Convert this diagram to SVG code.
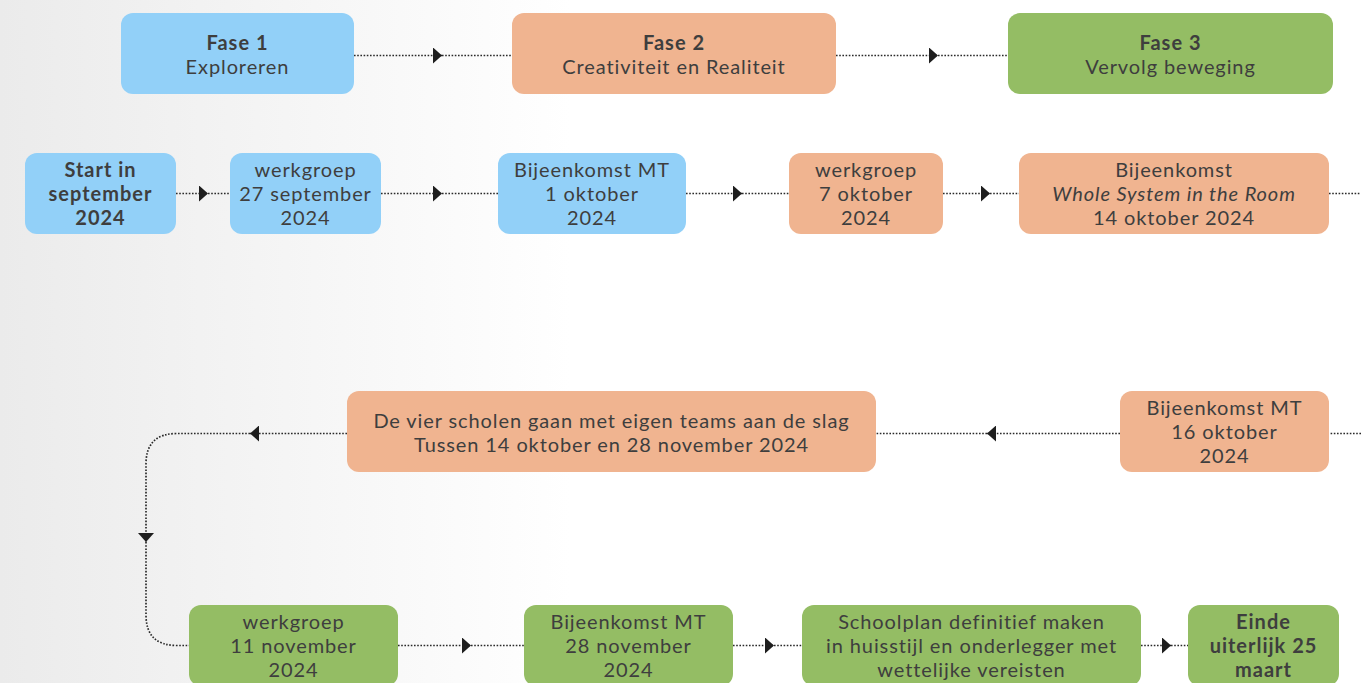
<svg xmlns="http://www.w3.org/2000/svg" width="1361" height="683" viewBox="0 0 1361 683">
  <defs>
    <linearGradient id="bg" x1="0" y1="0" x2="1" y2="0">
      <stop offset="0" stop-color="#ebebeb"/>
      <stop offset="0.42" stop-color="#ffffff"/>
      <stop offset="1" stop-color="#ffffff"/>
    </linearGradient>
    <marker id="arr" markerWidth="10" markerHeight="16" refX="9" refY="8" orient="auto" markerUnits="userSpaceOnUse">
      <path d="M0,0 L9,8 L0,16 Z" fill="#1e1e1e"/>
    </marker>
    <style>
      .box { stroke: none; }
      .blue { fill: #92d0f8; }
      .orange { fill: #f0b490; }
      .green { fill: #94bd64; }
      .t { font-family: Lato, "Open Sans", "Liberation Sans", sans-serif; font-size: 20px; letter-spacing: 0.9px; fill: #3e3e3e; text-anchor: middle; }
      .b { font-weight: bold; letter-spacing: 1px; }
      .i { font-style: italic; }
      .c { fill: none; stroke: #2a2a2a; stroke-width: 1.7; stroke-dasharray: 1.6 1.6; }
    </style>
  </defs>
  <rect x="0" y="0" width="1361" height="683" fill="url(#bg)"/>

  <g id="connectors">
    <path class="c" d="M354,55.5 H442" marker-end="url(#arr)"/>
    <path class="c" d="M442,55.5 H512"/>
    <path class="c" d="M836,55.5 H938" marker-end="url(#arr)"/>
    <path class="c" d="M938,55.5 H1008"/>

    <path class="c" d="M176,193.5 H208" marker-end="url(#arr)"/>
    <path class="c" d="M208,193.5 H230"/>
    <path class="c" d="M381,193.5 H442" marker-end="url(#arr)"/>
    <path class="c" d="M442,193.5 H498"/>
    <path class="c" d="M686,193.5 H742" marker-end="url(#arr)"/>
    <path class="c" d="M742,193.5 H789"/>
    <path class="c" d="M943,193.5 H990" marker-end="url(#arr)"/>
    <path class="c" d="M990,193.5 H1019"/>
    <path class="c" d="M1329,193.5 H1361"/>

    <path class="c" d="M1361,433.5 H1329"/>
    <path class="c" d="M1120,433.5 H987" marker-end="url(#arr)"/>
    <path class="c" d="M987,433.5 H876"/>
    <path class="c" d="M347,433.5 H250" marker-end="url(#arr)"/>
    <path class="c" d="M250,433.5 H177 Q146,433.5 146,464 V542" marker-end="url(#arr)"/>
    <path class="c" d="M146,542 V615 Q146,645.5 177,645.5 H189"/>

    <path class="c" d="M398,645.5 H471" marker-end="url(#arr)"/>
    <path class="c" d="M471,645.5 H524"/>
    <path class="c" d="M733,645.5 H774" marker-end="url(#arr)"/>
    <path class="c" d="M774,645.5 H802"/>
    <path class="c" d="M1141,645.5 H1171" marker-end="url(#arr)"/>
    <path class="c" d="M1171,645.5 H1188"/>
  </g>

  <g id="fase1">
    <rect class="box blue" x="121" y="13" width="233" height="81" rx="12"/>
    <text class="t b" x="237.5" y="50">Fase 1</text>
    <text class="t" x="237.5" y="74">Exploreren</text>
  </g>
  <g id="fase2">
    <rect class="box orange" x="512" y="13" width="324" height="81" rx="12"/>
    <text class="t b" x="674" y="50">Fase 2</text>
    <text class="t" x="674" y="74">Creativiteit en Realiteit</text>
  </g>
  <g id="fase3">
    <rect class="box green" x="1008" y="13" width="325" height="81" rx="12"/>
    <text class="t b" x="1170.5" y="50">Fase 3</text>
    <text class="t" x="1170.5" y="74">Vervolg beweging</text>
  </g>

  <g id="start">
    <rect class="box blue" x="25" y="153" width="151" height="81" rx="12"/>
    <text class="t b" x="100.5" y="177">Start in</text>
    <text class="t b" x="100.5" y="201">september</text>
    <text class="t b" x="100.5" y="225">2024</text>
  </g>
  <g id="werkgroep27sep">
    <rect class="box blue" x="230" y="153" width="151" height="81" rx="12"/>
    <text class="t" x="305.5" y="177">werkgroep</text>
    <text class="t" x="305.5" y="201">27 september</text>
    <text class="t" x="305.5" y="225">2024</text>
  </g>
  <g id="mt1okt">
    <rect class="box blue" x="498" y="153" width="188" height="81" rx="12"/>
    <text class="t" x="592" y="177">Bijeenkomst MT</text>
    <text class="t" x="592" y="201">1 oktober</text>
    <text class="t" x="592" y="225">2024</text>
  </g>
  <g id="werkgroep7okt">
    <rect class="box orange" x="789" y="153" width="154" height="81" rx="12"/>
    <text class="t" x="866" y="177">werkgroep</text>
    <text class="t" x="866" y="201">7 oktober</text>
    <text class="t" x="866" y="225">2024</text>
  </g>
  <g id="wholesystem">
    <rect class="box orange" x="1019" y="153" width="310" height="81" rx="12"/>
    <text class="t" x="1174" y="177">Bijeenkomst</text>
    <text class="t i" x="1174" y="201">Whole System in the Room</text>
    <text class="t" x="1174" y="225">14 oktober 2024</text>
  </g>

  <g id="mt16okt">
    <rect class="box orange" x="1120" y="391" width="209" height="81" rx="12"/>
    <text class="t" x="1224.5" y="415">Bijeenkomst MT</text>
    <text class="t" x="1224.5" y="439">16 oktober</text>
    <text class="t" x="1224.5" y="463">2024</text>
  </g>
  <g id="vierscholen">
    <rect class="box orange" x="347" y="391" width="529" height="81" rx="12"/>
    <text class="t" x="611.5" y="428">De vier scholen gaan met eigen teams aan de slag</text>
    <text class="t" x="611.5" y="452">Tussen 14 oktober en 28 november 2024</text>
  </g>

  <g id="werkgroep11nov">
    <rect class="box green" x="189" y="605" width="209" height="81" rx="12"/>
    <text class="t" x="293.5" y="629">werkgroep</text>
    <text class="t" x="293.5" y="653">11 november</text>
    <text class="t" x="293.5" y="677">2024</text>
  </g>
  <g id="mt28nov">
    <rect class="box green" x="524" y="605" width="209" height="81" rx="12"/>
    <text class="t" x="628.5" y="629">Bijeenkomst MT</text>
    <text class="t" x="628.5" y="653">28 november</text>
    <text class="t" x="628.5" y="677">2024</text>
  </g>
  <g id="schoolplan">
    <rect class="box green" x="802" y="605" width="339" height="81" rx="12"/>
    <text class="t" x="971.5" y="629">Schoolplan definitief maken</text>
    <text class="t" x="971.5" y="653">in huisstijl en onderlegger met</text>
    <text class="t" x="971.5" y="677">wettelijke vereisten</text>
  </g>
  <g id="einde">
    <rect class="box green" x="1188" y="605" width="151" height="81" rx="12"/>
    <text class="t b" x="1263.5" y="629">Einde</text>
    <text class="t b" x="1263.5" y="653">uiterlijk 25</text>
    <text class="t b" x="1263.5" y="677">maart</text>
  </g>
</svg>
